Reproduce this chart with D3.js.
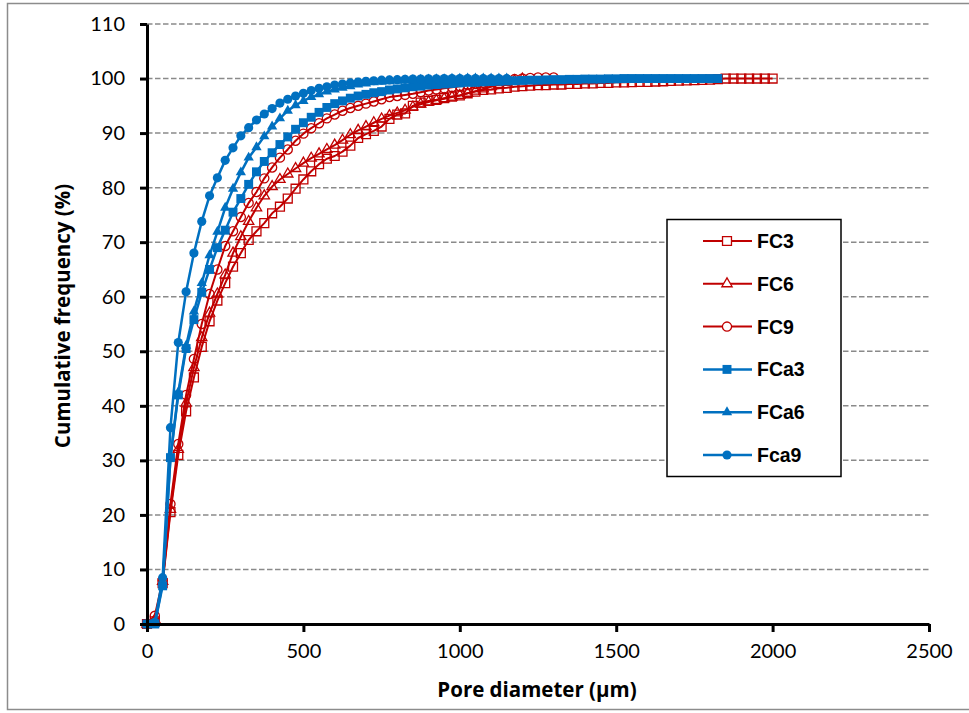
<!DOCTYPE html>
<html>
<head>
<meta charset="utf-8">
<script src="https://cdn.jsdelivr.net/npm/d3@7"></script>
<style>
  body { margin: 0; background: #fff; }
  svg { display: block; }
</style>
</head>
<body>
<svg id="chart" width="969" height="713"></svg>
<script>
// pore diameters (um), every 25 um
var diam = [
  0, 25, 50, 75, 100, 125, 150, 175, 200, 225,
  250, 275, 300, 325, 350, 375, 400, 425, 450, 475,
  500, 525, 550, 575, 600, 625, 650, 675, 700, 725,
  750, 775, 800, 825, 850, 875, 900, 925, 950, 975,
  1000, 1025, 1050, 1075, 1100, 1125, 1150, 1175, 1200, 1225,
  1250, 1275, 1300, 1325, 1350, 1375, 1400, 1425, 1450, 1475,
  1500, 1525, 1550, 1575, 1600, 1625, 1650, 1675, 1700, 1725,
  1750, 1775, 1800, 1825, 1850, 1875, 1900, 1925, 1950, 1975,
  2000
];

// cumulative frequency (%) per sample
var fc3 = [
  0, 0.5, 7.5, 20.5, 31, 39, 45.2, 50.8, 55.5, 59.3,
  62.5, 65.5, 68, 70.4, 72, 73.5, 75.3, 76.5, 78, 79.8,
  81.5, 83, 84.3, 85.3, 85.8, 86.6, 87.7, 89.1, 89.8, 90.4,
  91.2, 92.6, 93.4, 93.6, 95, 95.6, 95.9, 96.1, 96.4, 96.7,
  96.9, 97.3, 97.6, 97.9, 98, 98.2, 98.3, 98.5, 98.6, 98.7,
  98.8, 98.8, 98.9, 98.9, 99, 99, 99.1, 99.1, 99.2, 99.2,
  99.3, 99.3, 99.35, 99.4, 99.4, 99.45, 99.5, 99.55, 99.6, 99.65,
  99.7, 99.75, 99.8, 99.9, 100, 100, 100, 100, 100, 100,
  100
];
var fc6 = [
  0, 0.8, 7.8, 21, 32, 40.5, 47, 52.5, 57, 60.5,
  64, 68, 71, 73.8, 76.3, 78.5, 80.2, 81.5, 82.5, 83.5,
  84.5, 85.4, 86.2, 87, 87.8, 88.7, 89.7, 90.5, 91.2, 91.9,
  92.6, 93.2, 93.7, 94.2, 94.8, 95.3, 95.7, 96, 96.3, 96.6,
  96.9, 97.3, 97.7, 98.1, 98.5, 98.9, 99.3, 99.6, 99.9
];
var fc9 = [
  0, 1.5, 8, 22, 33, 42, 48.6, 55, 60.5, 65,
  69.3, 72, 74.6, 77.2, 79.2, 81.7, 83.7, 85.5, 87, 88.6,
  89.9, 90.9, 91.8, 92.7, 93.4, 94.1, 94.6, 95, 95.4, 95.8,
  96.2, 96.6, 96.8, 97, 97.2, 97.5, 97.8, 98, 98.2, 98.4,
  98.6, 98.8, 99, 99.2, 99.4, 99.6, 99.8, 99.9, 100, 100.1,
  100.2, 100.2, 100.2
];
var fca3 = [
  0, 0, 7, 30.5, 42, 50.5, 55.8, 60.8, 65, 69,
  72.2, 75.5, 78, 80.6, 82.9, 84.8, 86.4, 87.9, 89.3, 90.7,
  91.9, 92.9, 93.8, 94.7, 95.4, 95.9, 96.4, 96.8, 97.1, 97.4,
  97.6, 97.9, 98.1, 98.3, 98.5, 98.6, 98.8, 98.9, 99, 99.1,
  99.2, 99.3, 99.3, 99.4, 99.45, 99.5, 99.55, 99.6, 99.65, 99.7,
  99.7, 99.75, 99.8, 99.8, 99.85, 99.85, 99.9, 99.9, 99.9, 99.95,
  99.95, 100, 100, 100, 100, 100, 100, 100, 100, 100,
  100, 100, 100, 100
];
var fca6 = [
  0, 0, 7.5, 30.5, 42.5, 51, 57.3, 62.5, 67.6, 71.9,
  76.3, 79.8, 82.8, 85.5, 87.4, 89.4, 91.2, 92.7, 94.1, 95.1,
  95.9, 96.6, 97.1, 97.6, 98, 98.3, 98.6, 98.9, 99.1, 99.3,
  99.4, 99.5, 99.6, 99.7, 99.75, 99.8, 99.85, 99.9, 99.9, 99.95,
  99.95, 100, 100, 100, 100, 100, 100
];
var fca9 = [
  0, 0.3, 8.5, 36, 51.6, 60.9, 68, 73.8, 78.5, 81.8,
  85, 87.3, 89.5, 91, 92.4, 93.5, 94.5, 95.5, 96.2, 96.8,
  97.3, 97.8, 98.2, 98.5, 98.8, 99, 99.2, 99.35, 99.5, 99.6,
  99.7, 99.75, 99.8, 99.85, 99.9, 99.9, 99.95, 99.95, 100, 100,
  100, 100, 100, 100, 100, 100, 100
];

var names = ["FC3", "FC6", "FC9", "FCa3", "FCa6", "Fca9"];
var xTicks = [0, 500, 1000, 1500, 2000, 2500];
var yTicks = [0, 10, 20, 30, 40, 50, 60, 70, 80, 90, 100, 110];

var red = "#c00000", blue = "#0070c0";
var series = [
  {name: names[0], values: fc3, color: red, shape: "square", filled: false},
  {name: names[1], values: fc6, color: red, shape: "triangle", filled: false},
  {name: names[2], values: fc9, color: red, shape: "circle", filled: false},
  {name: names[3], values: fca3, color: blue, shape: "square", filled: true},
  {name: names[4], values: fca6, color: blue, shape: "triangle", filled: true},
  {name: names[5], values: fca9, color: blue, shape: "circle", filled: true}
];

var svg = d3.select("#chart");
var plotL = 147, plotR = 929, plotT = 24, plotB = 624;

// outer frame
svg.append("rect")
  .attr("x", 7.5).attr("y", 3.5)
  .attr("width", 975).attr("height", 706)
  .attr("fill", "#fff")
  .attr("stroke", "#8c8c8c")
  .attr("stroke-width", 1.5);

var x = d3.scaleLinear().domain([0, 2500]).range([plotL, plotR]);
var y = d3.scaleLinear().domain([0, 110]).range([plotB, plotT]);

// dashed gridlines
svg.append("g")
  .selectAll("line")
  .data(yTicks.filter(function(d) { return d > 0; }))
  .enter().append("line")
  .attr("x1", plotL).attr("x2", plotR)
  .attr("y1", function(d) { return y(d); })
  .attr("y2", function(d) { return y(d); })
  .attr("stroke", "#8a8a8a")
  .attr("stroke-width", 1.5)
  .attr("stroke-dasharray", "5.5,2.5");

function symbolPath(shape) {
  if (shape == "square") return d3.symbol().type(d3.symbolSquare).size(80)();
  if (shape == "triangle") return d3.symbol().type(d3.symbolTriangle).size(46)();
  return d3.symbol().type(d3.symbolCircle).size(66)();
}

var line = d3.line()
  .x(function(d) { return x(d.d); })
  .y(function(d) { return y(d.v); });

var plot = svg.append("g");

series.forEach(function(s) {
  var pts = s.values.map(function(v, i) { return {d: diam[i], v: v}; });
  plot.append("path")
    .datum(pts)
    .attr("fill", "none")
    .attr("stroke", s.color)
    .attr("stroke-width", s.filled ? 2.5 : 2)
    .attr("stroke-linejoin", "round")
    .attr("d", line);

  plot.append("g")
    .selectAll("path")
    .data(pts)
    .enter().append("path")
    .attr("d", symbolPath(s.shape))
    .attr("transform", function(d) { return "translate(" + x(d.d) + "," + y(d.v) + ")"; })
    .attr("fill", s.filled ? s.color : "none")
    .attr("stroke", s.color)
    .attr("stroke-width", s.filled ? 0 : 1.3);
});

// axes
var yAxis = svg.append("g")
  .attr("transform", "translate(" + plotL + ",0)")
  .call(d3.axisLeft(y).tickValues(yTicks).tickSize(7).tickSizeOuter(0).tickPadding(15));
var xAxis = svg.append("g")
  .attr("transform", "translate(0," + plotB + ")")
  .call(d3.axisBottom(x).tickValues(xTicks).tickFormat(d3.format("d"))
    .tickSize(8).tickSizeOuter(0).tickPadding(12));

[xAxis, yAxis].forEach(function(a) {
  a.select(".domain").attr("stroke", "#000").attr("stroke-width", 3);
  a.selectAll(".tick line").attr("stroke", "#000").attr("stroke-width", 3);
  a.selectAll("text")
    .attr("fill", "#000")
    .style("font-family", "Lato, 'Open Sans', sans-serif")
    .style("font-size", "20px");
});

// axis titles
svg.append("text")
  .attr("x", 537).attr("y", 697)
  .attr("text-anchor", "middle")
  .style("font-family", "'Open Sans', Lato, sans-serif")
  .style("font-weight", "bold")
  .style("font-size", "20.5px")
  .text("Pore diameter (µm)");

svg.append("text")
  .attr("transform", "translate(70,316) rotate(-90)")
  .attr("text-anchor", "middle")
  .style("font-family", "'Open Sans', Lato, sans-serif")
  .style("font-weight", "bold")
  .style("font-size", "20.5px")
  .text("Cumulative frequency (%)");

// legend
var legend = svg.append("g");
legend.append("rect")
  .attr("x", 667).attr("y", 219.5)
  .attr("width", 174).attr("height", 257)
  .attr("fill", "#fff")
  .attr("stroke", "#000")
  .attr("stroke-width", 1.5);

var rows = legend.selectAll("g.item")
  .data(series)
  .enter().append("g")
  .attr("class", "item")
  .attr("transform", function(d, i) { return "translate(0," + (241 + i * 42.8) + ")"; });

rows.append("line")
  .attr("x1", 703).attr("x2", 752)
  .attr("stroke", function(d) { return d.color; })
  .attr("stroke-width", function(d) { return d.filled ? 2.5 : 2; });

rows.append("path")
  .attr("d", function(d) { return symbolPath(d.shape); })
  .attr("transform", "translate(727,0)")
  .attr("fill", function(d) { return d.filled ? d.color : "#fff"; })
  .attr("stroke", function(d) { return d.color; })
  .attr("stroke-width", function(d) { return d.filled ? 0 : 1.3; });

rows.append("text")
  .attr("x", 757).attr("y", 7)
  .style("font-family", "'Liberation Sans', Arial, sans-serif")
  .style("font-weight", "bold")
  .style("font-size", "19.5px")
  .text(function(d) { return d.name; });
</script>
</body>
</html>
